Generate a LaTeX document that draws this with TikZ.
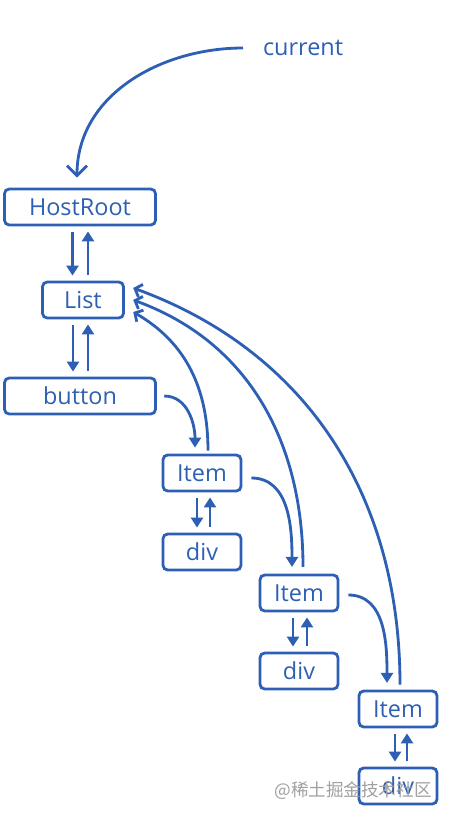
\documentclass[tikz,border=0pt]{standalone}
\usepackage{fontspec}
\setmainfont{Open Sans}
\newfontfamily\cjk{Noto Sans CJK SC}
\usepackage{tikz}
\usetikzlibrary{arrows.meta, positioning, calc}
\definecolor{inkblue}{RGB}{45, 95, 180}
\definecolor{markgray}{RGB}{160, 160, 160}

\begin{document}
\begin{tikzpicture}[x=0.03cm, y=0.03cm, line width=2.4pt,
    fiber/.style={draw=inkblue, rounded corners=4pt, minimum height=1.08cm, inner sep=0pt, text=inkblue, font=\fontsize{20}{24}\selectfont},
    link/.style={draw=inkblue, -{Triangle[length=0.3cm, width=0.36cm]}, shorten >=0.15cm, shorten <=0.18cm},
    hop/.style={draw=inkblue, -{Triangle[length=0.3cm, width=0.36cm]}},
    back/.style={draw=inkblue, -{Straight Barb[length=0.18cm, width=0.4cm]}}]
    \useasboundingbox (0,0) rectangle (451,-817);

    % Fiber nodes
    \node[fiber, minimum width=4.53cm] (root) at (80,-207) {HostRoot};
    \node[fiber, minimum width=2.43cm] (list) at (83,-300) {List};
    \node[fiber, minimum width=4.53cm] (button) at (80,-396) {button};
    \node[fiber, minimum width=2.34cm] (item1) at (202,-473) {Item};
    \node[fiber, minimum width=2.34cm] (div1) at (202,-552) {div};
    \node[fiber, minimum width=2.34cm] (item2) at (299,-593) {Item};
    \node[fiber, minimum width=2.34cm] (div2) at (299,-671) {div};
    \node[fiber, minimum width=2.34cm] (item3) at (398,-709) {Item};
    \node[fiber, minimum width=2.34cm] (div3) at (398,-786) {div};

    % Pointer
    \node[anchor=west, inner sep=0.23cm, text=inkblue, font=\fontsize{20}{24}\selectfont] (current) at (254,-48) {current};
    \draw[inkblue, -{Straight Barb[length=0.3cm, width=0.6cm]}] ([xshift=-0.33cm]current.west) to[out=180, in=90] ([xshift=-0.09cm, yshift=0.3cm]root.north);

    % Child / return pairs
    \draw[link] ($(root.south)+(-7.5,0)$) -- ($(root.south |- list.north)+(-7.5,0)$);
    \draw[link] ($(root.south |- list.north)+(8,0)$) -- ($(root.south)+(8,0)$);
    \draw[link] ($(list.south)+(-10,0)$) -- ($(list.south |- button.north)+(-10,0)$);
    \draw[link] ($(list.south |- button.north)+(5,0)$) -- ($(list.south)+(5,0)$);
    \draw[link] ($(item1.south)+(-5,0)$) -- ($(div1.north)+(-5,0)$);
    \draw[link] ($(div1.north)+(8,0)$) -- ($(item1.south)+(8,0)$);
    \draw[link] ($(item2.south)+(-6,0)$) -- ($(div2.north)+(-6,0)$);
    \draw[link] ($(div2.north)+(8,0)$) -- ($(item2.south)+(8,0)$);
    \draw[link] ($(item3.south)+(-3,0)$) -- ($(div3.north)+(-3,0)$);
    \draw[link] ($(div3.north)+(9,0)$) -- ($(item3.south)+(9,0)$);

    % Sibling hops
    \draw[hop] ([xshift=0.22cm]button.east) to[out=0, in=90] ([xshift=-0.21cm, yshift=0.18cm]item1.north);
    \draw[hop] ([xshift=0.27cm, yshift=-0.15cm]item1.east) to[out=0, in=90] ([xshift=-0.21cm, yshift=0.2cm]item2.north);
    \draw[hop] ([xshift=0.27cm, yshift=-0.06cm]item2.east) to[out=0, in=90] ([xshift=-0.33cm, yshift=0.2cm]item3.north);

    % Returns to List
    \draw[back] ([xshift=0.18cm, yshift=0.09cm]item1.north) to[out=90, in=-30] ([xshift=0.25cm, yshift=-0.36cm]list.east);
    \draw[back] ([xshift=0.12cm, yshift=0.2cm]item2.north) to[out=90, in=-20] ([xshift=0.25cm]list.east);
    \draw[back] ([xshift=0.06cm, yshift=0.15cm]item3.north) to[out=90, in=-20] ([xshift=0.25cm, yshift=0.36cm]list.east);

    % Watermark
    \node[font=\cjk\fontsize{15}{18}\selectfont, text=markgray] (mark) at (353,-791) {@稀土掘金技术社区};
\end{tikzpicture}
\end{document}
